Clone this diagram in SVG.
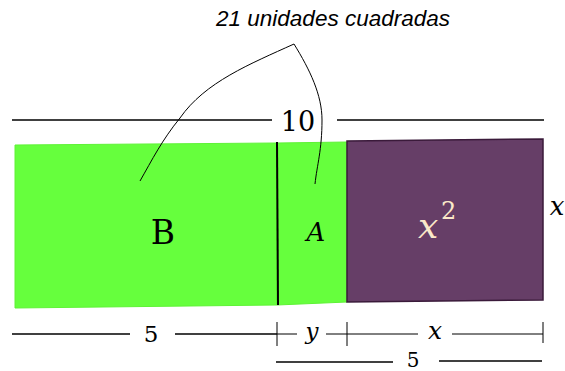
<svg xmlns="http://www.w3.org/2000/svg" width="565" height="371" viewBox="0 0 565 371">
<style>
.dim{stroke:#000;stroke-width:1.6;fill:none}
.thin{stroke:#000;stroke-width:1;fill:none}
.m{font-family:'DejaVu Serif','Liberation Serif',serif}
</style>
<rect width="565" height="371" fill="#fff"/>
<g id="title"><text x="333" y="26" font-family="Liberation Sans, Arial, sans-serif" font-style="italic" font-size="22.5" text-anchor="middle">21 unidades cuadradas</text></g>
<g id="rectB"><polygon points="15,145 277,143 277,305 15,308" fill="#66ff3d" stroke="#5ef236" stroke-width="1"/><text class="m" x="163" y="244" font-size="33" text-anchor="middle">B</text></g>
<g id="rectA"><polygon points="277,143 347,142 347,302 277,305" fill="#66ff3d" stroke="#5ef236" stroke-width="1"/><text class="m" x="316" y="241" font-style="italic" font-size="26" text-anchor="middle">A</text></g>
<g id="divider"><line x1="277" y1="142" x2="278" y2="305" stroke="#000" stroke-width="2"/></g>
<g id="rectX2"><polygon points="347,141 543,139 543,300 347,302" fill="#663e67" stroke="#3a1a3a" stroke-width="1.5"/><text class="m" x="418" y="238" font-style="italic" font-size="36" fill="#fbe9c9">x</text><text class="m" x="441" y="219" font-size="24" fill="#fbe9c9">2</text></g>
<g id="sideX"><text class="m" x="557" y="215" font-style="italic" font-size="26" text-anchor="middle">x</text></g>
<g id="top10"><text class="m" x="298" y="131" font-size="27" text-anchor="middle">10</text></g>
<g id="connectors">
<line class="dim" x1="12" y1="120" x2="272" y2="120"/>
<line class="dim" x1="337" y1="120" x2="544" y2="120"/>
<path class="thin" d="M294,44 C250,64 205,82 180,118 C162,140 152,160 140,181"/>
<path class="thin" d="M294,44 C310,70 322,95 322,120 C322,150 317,165 315,184"/>
<line class="dim" x1="12" y1="334" x2="130" y2="334"/>
<line class="dim" x1="175" y1="334" x2="277" y2="334"/>
<line class="thin" x1="277" y1="334" x2="297" y2="334"/>
<line class="thin" x1="326" y1="334" x2="347" y2="334"/>
<line class="thin" x1="347" y1="334" x2="418" y2="334"/>
<line class="thin" x1="452" y1="334" x2="543" y2="334"/>
<line class="thin" x1="277" y1="322" x2="277" y2="346"/>
<line class="thin" x1="347" y1="322" x2="347" y2="346"/>
<line class="thin" x1="543" y1="322" x2="543" y2="343"/>
<line class="dim" x1="276" y1="362" x2="393" y2="362"/>
<line class="dim" x1="439" y1="361" x2="542" y2="361"/>
</g>
<g id="labels" class="m">
<text x="151" y="342" font-size="23" text-anchor="middle">5</text>
<text x="312" y="339" font-size="23" font-style="italic" text-anchor="middle">y</text>
<text x="435" y="339" font-size="25" font-style="italic" text-anchor="middle">x</text>
<text x="413" y="367" font-size="20" text-anchor="middle">5</text>
</g>
</svg>
